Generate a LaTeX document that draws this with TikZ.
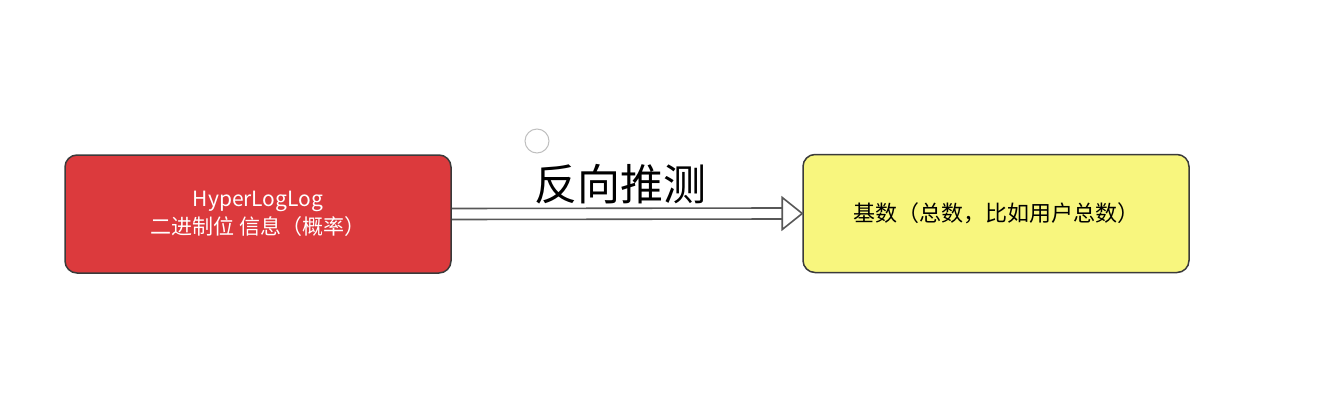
\documentclass[tikz,border=0pt]{standalone}
\usepackage{fontspec}
\setmainfont{Noto Sans CJK SC}
\newfontfamily\cjk{Noto Sans CJK SC}
\usetikzlibrary{calc}
\definecolor{boxred}{HTML}{DC3A3D}
\definecolor{boxyellow}{HTML}{F8F67E}
\definecolor{edgegray}{HTML}{3A3A3A}
\tikzset{card/.style={rectangle, rounded corners=12pt, draw=edgegray, line width=1.5pt, minimum width=386pt, minimum height=118pt, inner sep=0pt, align=center}}

\begin{document}
\begin{tikzpicture}[x=1pt,y=-1pt]
  \useasboundingbox (0,0) rectangle (1320,407);
  \node[card, fill=boxred, text=white, font=\cjk\fontsize{21}{28}\selectfont] (hll) at (258,214) {HyperLogLog\\二进制位 信息（概率）};
  \node[card, fill=boxyellow, text=black, font=\cjk\fontsize{22}{28}\selectfont] (card) at (996,213.5) {基数（总数，比如用户总数）};
  % hollow arrow
  \coordinate (head) at ($(card.west)+(-20,0)$);
  \draw[edgegray!85, line width=1.6pt] ($(hll.east)+(0,-5.5)$) -- ($(head)+(0,-5.5)$);
  \draw[edgegray!85, line width=1.6pt] ($(hll.east)+(0,5.5)$) -- ($(head)+(0,5.5)$);
  \draw[edgegray!85, line width=1.6pt, fill=white, line join=miter] ($(head)+(0,-16)$) -- (card.west) -- ($(head)+(0,16)$) -- cycle;
  \node[font=\cjk\fontsize{43}{45}\selectfont] (lab) at (620,184) {反向推测};
  \node[circle, draw=black!25, line width=1pt, minimum size=24pt, inner sep=0pt] (dot) at (537,141) {};
\end{tikzpicture}
\end{document}
